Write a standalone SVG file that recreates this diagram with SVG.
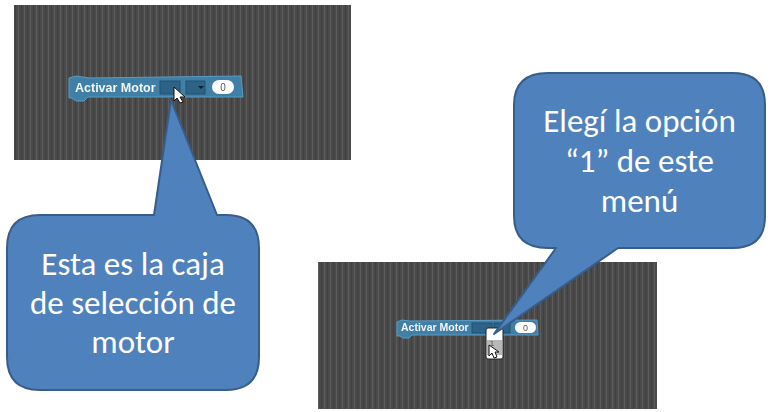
<svg xmlns="http://www.w3.org/2000/svg" width="775" height="412" viewBox="0 0 775 412">
<defs>
<pattern id="st" width="6" height="4" patternUnits="userSpaceOnUse">
<rect width="6" height="4" fill="#4a4a4a"/>
<rect x="0" width="1" height="4" fill="#5c5c5c"/>
<rect x="3" width="1" height="4" fill="#404040"/>
</pattern>
<filter id="b" x="-5%" y="-5%" width="110%" height="110%"><feGaussianBlur stdDeviation="0.45"/></filter>
</defs>
<style>
.bg{fill:url(#st)}
.call{fill:#4f81bd;stroke:#385d8a;stroke-width:2;stroke-linejoin:round}
.t{font-family:"Carlito","Open Sans","Liberation Sans",sans-serif;font-size:33px;fill:#fff;text-anchor:middle}
.bl{fill:#3f7fa6;stroke:#5a9cc4;stroke-width:1}
.sl{fill:#2f6488;stroke:#22506f;stroke-width:1}
.lb{font-family:"Liberation Sans",sans-serif;font-weight:bold;fill:#f2f6f9}
.z{font-family:"Liberation Sans",sans-serif;fill:#555;text-anchor:middle}
</style>
<g id="screen-top">
<rect class="bg" x="14" y="5" width="337" height="155"/>
<g filter="url(#b)">
<path class="bl" d="M69 78 L76 76 L90 78 L241 76 L243 97 L88 97 L84 101 L76 101 L72 98 L69 98 Z"/>
<text class="lb" x="75" y="92" font-size="12.500">Activar Motor</text>
<rect class="sl" x="160" y="81" width="20" height="13"/>
<rect class="sl" x="186" y="81" width="19" height="13"/>
<path d="M198 86h6l-3 3z" fill="#0c1c28"/>
<rect x="212" y="80" width="22" height="14" rx="7" fill="#fff"/>
<text class="z" x="223" y="91" font-size="10">0</text>
</g>
</g>
<g id="screen-bottom">
<rect class="bg" x="318" y="262" width="339" height="147"/>
<g filter="url(#b)">
<path class="bl" d="M397 322 L402 320 L410 321 L537 320 L538 335 L412 335 L409 338 L403 338 L400 336 L397 336 Z"/>
<text class="lb" x="401" y="331" font-size="10.500">Activar Motor</text>
<rect class="sl" x="472" y="323" width="20" height="10"/>
<rect class="sl" x="494" y="323" width="16" height="10"/>
<rect x="515" y="322" width="21" height="11" rx="5.500" fill="#fff"/>
<text class="z" x="525.500" y="331" font-size="9">0</text>
<rect x="486" y="328" width="17" height="31" rx="2" fill="#fff" stroke="#222"/>
<rect x="487" y="340" width="15" height="15" fill="#b8b8b8"/>
<text class="z" x="492" y="346" font-size="8">1</text>
</g>
</g>
<g id="callout-left">
<path class="call" d="M171 100 L217 215 L226 215 Q259 215 259 248 L259 357 Q259 390 226 390 L40 390 Q7 390 7 357 L7 248 Q7 215 40 215 L154 215 Z"/>
<text class="t" x="133" y="275">Esta es la caja</text>
<text class="t" x="133" y="314">de selección de</text>
<text class="t" x="133" y="353">motor</text>
</g>
<g id="callout-right">
<path class="call" d="M548 73 L733 73 Q765 73 765 105 L765 216 Q765 248 733 248 L618 248 L494 334 L556 248 L548 248 Q514 248 514 216 L514 105 Q514 73 548 73 Z"/>
<text class="t" x="639.500" y="132">Elegí la opción</text>
<text class="t" x="639.500" y="172">“1” de este</text>
<text class="t" x="639.500" y="212">menú</text>
</g>
<g id="cursors">
<path d="M174 87 L174 101 L177 98 L180 103 L183 102 L180 97 L185 97 Z" fill="#fff" stroke="#111" stroke-width="1"/>
<path d="M489 345 L489 356 L492 353 L494 358 L497 357 L495 352 L499 352 Z" fill="#fff" stroke="#111" stroke-width="1"/>
</g>
</svg>
